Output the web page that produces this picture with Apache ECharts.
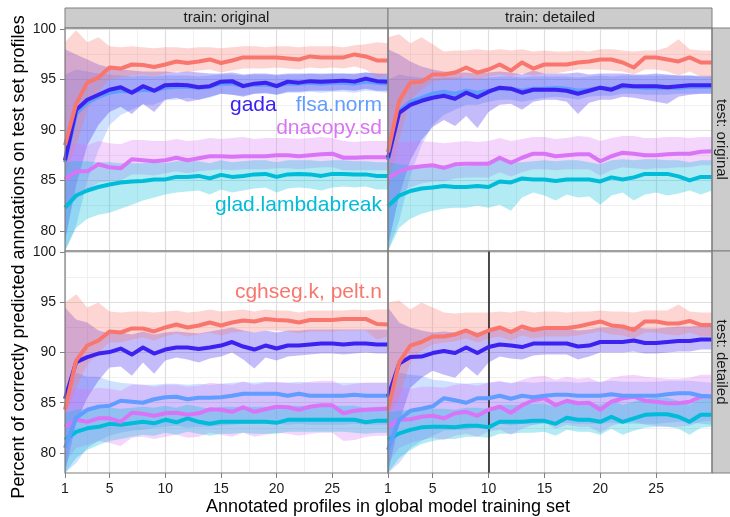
<!DOCTYPE html>
<html><head><meta charset="utf-8">
<script src="https://cdn.jsdelivr.net/npm/echarts@6/dist/echarts.min.js"></script>
<style>html,body{margin:0;padding:0;background:#fff}#c{width:730px;height:517px}</style>
</head><body><div id="c"></div>
<script>
// ---------- data ----------
const xVals = [1,2,3,4,5,6,7,8,9,10,11,12,13,14,15,16,17,18,19,20,21,22,23,24,25,26,27,28,29,30];
const xTicks = [1,5,10,15,20,25];
const xMinor = [3,7.5,12.5,17.5,22.5,27.5];
const yTicks = [80,85,90,95,100];
const yMinor = [82.5,87.5,92.5,97.5];
const colTitles = ['train: original','train: detailed'];
const rowTitles = ['test: original','test: detailed'];
const methodLabels = ['cghseg.k, pelt.n','gada','flsa.norm','dnacopy.sd','glad.lambdabreak'];
const xTitle = 'Annotated profiles in global model training set';
const yTitle = 'Percent of correctly predicted annotations on test set profiles';
const markedX = [10];

// top-left: train original / test original
const tlCghMean = [88.5,92.6,94.7,95.2,96.2,96.1,96.5,96.45,96.25,96.5,96.8,96.65,96.8,97.0,96.65,96.9,97.2,97.2,97.2,97.2,97.1,97.0,97.3,97.2,97.2,97.2,97.5,97.3,96.9,96.9];
const tlCghLo = [85.5,88.5,92.0,93.8,95.0,95.2,95.4,95.5,95.3,95.6,95.8,95.7,95.9,96.0,95.7,95.9,96.1,96.1,96.1,96.2,96.1,96.0,96.2,96.1,96.2,96.1,96.3,96.0,95.2,95.5];
const tlCghHi = [98.7,99.9,98.7,99.2,98.3,98.2,98.3,98.2,98.1,98.2,98.2,98.1,98.2,98.2,98.1,98.2,98.3,98.3,98.2,98.3,98.3,98.2,98.3,98.3,98.3,98.2,98.4,98.5,98.7,98.6];
const tlGadaMean = [87.0,92.0,93.0,93.5,94.0,94.25,93.7,94.35,93.9,94.45,94.5,94.45,94.25,94.35,94.8,94.85,94.35,94.6,94.7,94.35,94.8,94.7,94.85,94.8,94.85,94.9,94.8,95.1,94.85,94.8];
const tlGadaLo = [79.0,84.5,88.5,90.5,91.8,92.3,91.6,92.6,91.8,93.0,93.2,92.8,93.0,93.3,93.6,93.5,93.3,93.6,93.7,93.5,93.8,93.8,93.9,93.9,93.9,94.0,93.9,94.1,93.9,93.9];
const tlGadaHi = [98.0,97.5,97.0,96.5,96.2,96.0,95.9,95.8,95.8,95.8,95.7,95.8,95.7,95.6,95.6,95.7,95.5,95.6,95.6,95.5,95.6,95.6,95.6,95.6,95.6,95.6,95.6,95.7,95.6,95.6];
const tlFlsaMean = [86.8,91.6,92.7,93.3,93.7,93.9,93.8,94.0,93.9,94.2,94.3,94.3,94.2,94.3,94.6,94.6,94.4,94.5,94.5,94.4,94.6,94.6,94.7,94.6,94.7,94.7,94.6,94.8,94.7,94.6];
const tlFlsaLo = [78.0,80.5,85.0,88.0,90.5,91.5,92.0,92.5,92.5,93.0,93.0,93.2,93.0,93.2,93.6,93.5,93.4,93.6,93.6,93.5,93.7,93.7,93.8,93.7,93.8,93.8,93.7,93.9,93.8,93.7];
const tlFlsaHi = [95.5,96.0,95.8,95.6,95.5,95.4,95.3,95.4,95.3,95.4,95.4,95.4,95.3,95.4,95.5,95.5,95.4,95.5,95.5,95.4,95.5,95.5,95.6,95.5,95.6,95.6,95.5,95.7,95.6,95.5];
const tlDnaMean = [85.1,85.9,85.9,86.6,86.3,86.2,87.1,87.0,86.9,87.0,87.25,87.0,87.2,87.4,87.4,87.35,87.4,87.4,87.4,87.5,87.5,87.4,87.5,87.6,87.65,87.25,87.25,87.3,87.3,87.3];
const tlDnaLo = [82.5,83.5,84.0,84.8,84.9,85.0,85.6,85.6,85.5,85.7,85.9,85.7,85.9,86.0,86.1,86.0,86.1,86.1,86.1,86.2,86.2,86.1,86.2,86.3,86.3,86.0,86.0,86.0,86.0,86.0];
const tlDnaHi = [88.3,88.7,88.5,88.9,88.7,88.6,89.0,89.0,88.9,88.9,89.1,88.9,89.0,89.2,89.1,89.2,89.3,89.1,89.2,89.2,89.2,89.1,89.2,89.3,89.2,88.9,88.8,88.9,88.9,88.9];
const tlGladMean = [82.3,83.5,84.0,84.35,84.6,84.8,84.9,84.95,85.1,85.1,85.35,85.35,85.45,85.2,85.55,85.35,85.45,85.6,85.65,85.35,85.6,85.65,85.6,85.45,85.65,85.65,85.6,85.6,85.45,85.45];
const tlGladLo = [78.0,80.3,81.2,81.6,81.8,82.2,82.6,83.0,83.3,83.6,83.8,83.9,84.0,83.6,84.1,83.8,84.0,84.2,84.3,83.8,84.2,84.3,84.2,84.0,84.3,84.4,84.3,84.4,84.1,84.1];
const tlGladHi = [86.8,86.9,86.9,86.8,86.8,86.7,86.7,86.7,86.8,86.7,86.9,86.9,86.9,86.7,87.0,86.8,86.9,87.0,87.0,86.8,87.0,87.0,87.0,86.9,87.0,87.0,86.9,86.9,86.8,86.8];

// top-right: train detailed / test original
const trCghMean = [87.8,92.9,94.7,94.8,95.5,95.5,95.7,96.2,95.7,96.0,96.5,95.9,96.7,96.1,96.5,96.5,96.5,96.7,96.8,97.0,97.0,96.7,96.2,97.2,97.2,97.0,96.8,97.2,96.7,96.7];
const trCghLo = [84.0,89.0,93.0,94.0,94.8,95.0,95.0,95.3,95.0,95.3,95.5,95.3,95.6,95.4,95.6,95.6,95.8,96.0,96.0,96.0,95.9,95.8,95.5,96.0,96.0,95.8,95.4,95.8,95.3,95.2];
const trCghHi = [99.2,99.5,98.6,99.2,98.5,97.8,97.9,97.9,98.0,97.9,98.0,97.9,98.0,97.8,97.9,97.8,97.8,97.9,97.8,98.0,98.0,97.9,97.8,97.9,97.9,98.2,99.0,98.0,97.9,97.9];
const trGadaMean = [87.25,91.7,92.5,92.9,93.2,93.4,93.1,93.7,93.25,93.8,94.2,94.1,93.7,94.0,94.0,94.0,93.9,93.6,93.9,94.2,94.0,94.45,94.35,94.35,94.35,94.25,94.35,94.45,94.45,94.45];
const trGadaLo = [78.5,83.5,87.0,89.0,90.3,91.0,90.4,91.4,90.2,91.8,92.5,92.6,92.0,92.8,93.0,93.0,92.8,91.6,92.7,93.0,93.0,93.3,93.2,93.0,92.8,92.6,93.3,93.5,93.6,93.6];
const trGadaHi = [98.0,97.5,96.8,96.3,96.0,95.8,95.7,95.7,95.6,95.7,95.8,95.7,95.5,95.9,95.6,95.6,95.6,95.7,95.5,95.6,95.6,95.6,95.5,95.5,95.6,95.5,95.4,95.4,95.3,95.3];
const trFlsaMean = [87.0,91.9,92.8,93.2,93.6,93.8,93.6,93.9,93.7,93.9,94.1,94.1,93.9,94.1,94.1,94.2,94.1,93.9,94.0,94.2,94.1,94.3,94.3,94.2,94.2,94.2,94.2,94.3,94.3,94.3];
const trFlsaLo = [78.0,81.0,85.5,88.5,90.5,91.5,92.0,92.5,92.5,92.8,93.0,93.0,92.8,93.0,93.2,93.3,93.2,93.0,93.3,93.4,93.4,93.6,93.6,93.5,93.5,93.5,93.6,93.6,93.6,93.6];
const trFlsaHi = [95.0,95.5,95.3,95.2,95.1,95.2,95.2,95.2,95.1,95.2,95.3,95.3,95.2,95.3,95.3,95.3,95.3,95.2,95.3,95.4,95.3,95.4,95.4,95.4,95.4,95.4,95.4,95.4,95.4,95.4];
const trDnaMean = [85.2,85.9,86.25,86.4,86.5,86.25,86.6,86.65,86.65,86.65,87.25,86.75,87.25,87.65,87.65,87.4,87.5,87.6,87.6,86.9,87.4,87.75,87.65,87.5,87.5,87.6,87.65,87.65,87.85,87.9];
const trDnaLo = [82.5,83.7,84.3,84.7,84.9,84.9,85.2,85.3,85.3,85.3,85.8,85.4,85.8,86.1,86.1,86.0,86.1,86.1,86.1,85.5,86.0,86.3,86.2,86.1,86.2,86.2,86.3,86.3,86.5,86.5];
const trDnaHi = [88.2,88.8,88.8,88.9,88.8,88.7,88.8,88.9,88.8,88.9,89.2,88.9,89.1,89.3,89.3,89.1,89.2,89.4,89.3,88.9,89.2,89.4,89.4,89.2,89.2,89.3,89.3,89.2,89.3,89.3];
const trGladMean = [82.45,83.5,83.95,84.2,84.3,84.45,84.35,84.35,84.45,84.35,84.9,84.8,85.2,85.1,85.1,84.95,85.1,85.1,85.1,84.9,85.3,85.1,85.3,85.65,85.65,85.65,85.4,85.0,85.35,85.35];
const trGladLo = [78.0,80.3,81.2,81.7,82.0,82.2,82.3,82.3,82.5,82.3,82.6,82.0,83.3,83.8,83.5,83.0,83.6,83.3,83.4,82.6,83.5,83.8,83.0,83.6,83.8,83.5,83.7,84.0,83.6,84.0];
const trGladHi = [86.8,86.6,86.5,86.4,86.4,86.5,86.4,86.4,86.6,86.9,87.4,86.8,86.8,86.9,87.0,86.9,87.0,87.0,86.8,86.6,87.0,87.1,87.0,87.1,87.1,87.0,87.0,86.8,87.0,87.0];

// bottom-left: train original / test detailed
const blCghMean = [84.3,89.2,90.7,91.2,92.1,92.0,92.4,92.4,92.1,92.5,92.8,92.5,92.7,93.0,92.7,93.0,93.2,93.1,93.35,93.25,93.2,93.0,93.25,93.25,93.25,93.35,93.35,93.35,92.85,92.8];
const blCghLo = [83.5,86.5,88.8,90.0,91.0,91.0,91.3,91.5,91.2,91.6,91.9,91.6,91.8,92.0,91.7,92.0,92.1,92.0,92.2,92.2,92.1,91.9,92.1,92.1,92.1,92.2,92.2,92.2,91.3,91.6];
const blCghHi = [95.0,95.8,94.5,95.0,94.1,94.0,94.1,94.1,94.0,94.1,94.2,94.0,94.1,94.3,94.1,94.2,94.3,94.1,94.3,94.2,94.2,94.0,94.2,94.2,94.2,94.2,94.3,94.2,94.3,94.3];
const blGadaMean = [85.4,89.05,89.55,89.9,90.05,90.4,89.8,90.5,89.9,90.3,90.5,90.5,90.35,90.5,90.7,91.05,90.6,90.3,90.7,90.4,90.7,90.7,90.8,90.9,90.9,90.8,90.9,90.9,90.8,90.8];
const blGadaLo = [78.0,83.0,85.5,87.2,88.5,88.6,87.7,89.0,87.9,89.2,89.5,89.3,89.0,89.4,89.6,90.0,89.3,88.4,89.5,89.2,89.6,89.7,89.8,89.9,89.9,89.8,89.9,90.0,89.9,89.9];
const blGadaHi = [94.5,93.3,93.0,92.2,91.9,92.0,91.8,92.1,91.8,92.0,92.1,92.0,91.9,92.1,92.3,92.5,92.2,92.0,92.2,92.0,92.2,92.2,92.3,92.3,92.3,92.3,92.3,92.3,92.3,92.3];
const blFlsaMean = [80.5,83.5,84.3,84.6,84.7,85.2,85.1,85.0,85.35,85.55,85.6,85.35,85.5,85.5,85.55,85.7,85.9,85.9,85.9,85.9,85.7,85.9,85.7,85.7,85.7,85.7,85.8,85.7,85.7,85.7];
const blFlsaLo = [78.0,79.0,80.5,81.2,81.7,82.0,82.2,82.3,82.5,82.6,82.7,82.5,82.6,82.6,82.7,82.8,82.9,82.9,82.9,82.9,82.8,82.9,82.8,82.8,82.8,82.8,82.9,82.8,82.8,82.8];
const blFlsaHi = [85.0,88.0,87.6,87.6,87.2,87.0,86.9,86.8,86.8,86.9,86.9,86.8,86.9,86.8,86.9,87.0,87.1,87.0,87.1,87.0,87.0,87.1,87.0,87.0,87.0,87.0,87.0,87.0,87.0,87.0];
const blDnaMean = [82.6,83.3,83.1,83.45,83.45,83.1,84.0,83.9,83.7,83.95,84.0,83.8,83.95,84.35,84.3,84.1,84.55,84.1,84.35,84.6,84.55,84.3,84.6,84.75,84.75,83.95,84.2,84.3,84.35,84.4];
const blDnaLo = [79.0,80.5,80.8,81.2,81.0,80.7,81.5,81.6,81.4,81.6,81.8,81.5,81.6,82.0,81.8,81.6,82.0,81.6,81.8,82.0,81.9,81.7,81.9,82.0,82.0,81.2,81.3,81.6,81.7,81.7];
const blDnaHi = [86.0,86.5,86.3,86.5,86.4,86.2,86.8,86.8,86.6,86.8,86.8,86.6,86.7,87.0,86.9,86.8,87.1,86.8,87.0,87.1,87.0,86.9,87.1,87.2,87.2,86.7,86.9,87.0,87.0,87.0];
const blGladMean = [81.3,82.1,82.45,82.6,82.9,82.8,82.95,83.1,82.95,83.3,83.05,83.45,83.1,82.9,83.1,83.1,83.1,83.1,83.1,83.0,83.3,83.3,83.3,83.3,83.3,83.3,83.3,83.05,83.2,83.2];
const blGladLo = [78.0,79.5,80.3,80.8,81.2,81.4,81.6,81.8,81.7,82.0,81.8,82.1,81.9,81.7,81.9,81.9,82.0,81.9,81.9,81.9,82.1,82.1,82.1,82.1,82.1,82.1,82.0,81.9,82.0,82.0];
const blGladHi = [84.0,84.3,84.4,84.4,84.5,84.4,84.5,84.6,84.5,84.7,84.5,84.8,84.6,84.4,84.6,84.6,84.6,84.6,84.6,84.5,84.7,84.7,84.7,84.7,84.7,84.7,84.7,84.5,84.6,84.6];

// bottom-right: train detailed / test detailed
const brCghMean = [84.3,89.05,90.7,91.05,91.6,91.6,91.8,92.2,91.7,92.2,92.5,92.05,92.6,92.25,92.45,92.45,92.45,92.6,92.85,93.1,92.7,92.6,92.25,93.1,93.1,92.9,92.9,93.15,92.75,92.75];
const brCghLo = [83.5,85.5,89.0,90.2,90.8,91.0,91.1,91.4,91.0,91.4,91.6,91.2,91.7,91.4,91.6,91.6,91.6,91.7,91.9,92.1,91.8,91.7,91.4,92.0,92.0,91.8,91.7,92.0,91.6,91.6];
const brCghHi = [95.0,95.2,94.3,95.0,94.5,94.0,93.9,94.0,94.0,94.0,94.1,94.0,94.2,94.0,94.1,94.1,94.0,94.1,94.1,94.2,94.1,94.1,94.0,94.2,94.2,94.2,94.8,94.1,94.0,94.0];
const brGadaMean = [85.6,88.9,89.55,89.6,89.95,90.15,89.95,90.5,89.95,90.55,90.8,90.7,90.55,90.9,90.9,90.9,90.9,90.6,90.7,91.05,91.05,91.05,91.2,90.95,90.95,91.05,91.15,91.15,91.3,91.3];
const brGadaLo = [78.0,83.0,86.5,87.5,88.2,87.8,87.5,88.6,87.7,89.0,89.6,89.4,89.3,89.7,89.8,89.8,89.8,89.3,89.6,90.0,90.0,90.0,90.1,89.9,89.9,90.0,90.1,90.1,90.3,90.3];
const brGadaHi = [94.5,93.0,92.5,92.2,92.0,92.1,92.0,92.3,92.0,92.3,92.4,92.3,92.3,92.5,92.4,92.4,92.4,92.2,92.3,92.5,92.5,92.5,92.6,92.4,92.4,92.5,92.6,92.6,92.7,92.7];
const brFlsaMean = [80.3,83.3,84.2,84.4,84.65,85.45,85.25,85.0,85.45,85.45,85.7,85.4,85.7,85.55,85.7,85.8,85.8,85.7,85.7,85.7,85.85,85.7,85.7,85.7,85.7,85.85,85.95,85.95,85.7,85.6];
const brFlsaLo = [78.0,79.0,80.5,81.2,81.7,82.2,82.3,82.3,82.6,82.7,82.9,82.7,82.9,82.8,82.9,83.0,83.0,82.9,82.9,82.9,83.0,82.9,82.9,82.9,82.9,83.0,83.1,83.1,82.9,82.8];
const brFlsaHi = [85.0,88.0,87.8,87.7,87.3,87.2,87.0,86.9,87.0,87.0,87.1,87.0,87.1,87.0,87.1,87.1,87.1,87.0,87.1,87.1,87.2,87.1,87.1,87.1,87.1,87.2,87.2,87.2,87.1,87.0];
const brDnaMean = [82.6,83.3,83.35,83.6,83.7,83.45,83.95,84.1,83.7,84.3,84.6,84.0,84.75,85.25,85.45,84.75,85.2,84.95,85.0,84.3,85.1,85.45,85.6,85.2,85.1,84.95,84.95,85.1,85.6,85.65];
const brDnaLo = [79.0,80.5,81.0,81.3,81.5,81.3,81.7,81.9,81.6,82.1,82.3,81.8,82.4,82.8,83.0,82.4,82.8,82.6,82.6,82.0,82.7,83.0,83.1,82.8,82.7,82.6,82.6,82.7,83.1,83.2];
const brDnaHi = [86.0,86.5,86.4,86.6,86.6,86.5,86.8,86.9,86.7,87.0,87.2,86.9,87.3,87.6,87.7,87.3,87.6,87.4,87.5,87.0,87.5,87.7,87.8,87.6,87.5,87.4,87.4,87.5,87.8,87.8];
const brGladMean = [81.3,81.95,82.3,82.55,82.6,82.6,82.55,82.7,82.7,82.55,83.1,83.1,83.1,83.2,83.2,82.9,83.5,83.3,83.3,83.1,83.6,83.1,83.45,83.8,83.85,83.85,83.6,83.1,83.8,83.8];
const brGladLo = [78.0,79.5,80.3,80.9,81.2,81.4,81.4,81.6,81.6,81.5,81.9,81.9,82.0,82.0,82.1,81.7,82.3,82.1,82.1,81.8,82.4,81.8,82.2,82.5,82.6,82.6,82.4,81.8,82.5,82.6];
const brGladHi = [84.0,84.2,84.3,84.4,84.4,84.4,84.3,84.5,84.5,84.4,84.8,84.8,84.8,84.9,84.9,84.6,85.1,85.0,85.0,84.8,85.2,84.8,85.1,85.4,85.5,85.5,85.2,84.8,85.4,85.4];

// ---------- chart ----------
const panels = [
  {cgh:[tlCghMean,tlCghLo,tlCghHi], gada:[tlGadaMean,tlGadaLo,tlGadaHi], flsa:[tlFlsaMean,tlFlsaLo,tlFlsaHi], dna:[tlDnaMean,tlDnaLo,tlDnaHi], glad:[tlGladMean,tlGladLo,tlGladHi]},
  {cgh:[trCghMean,trCghLo,trCghHi], gada:[trGadaMean,trGadaLo,trGadaHi], flsa:[trFlsaMean,trFlsaLo,trFlsaHi], dna:[trDnaMean,trDnaLo,trDnaHi], glad:[trGladMean,trGladLo,trGladHi]},
  {cgh:[blCghMean,blCghLo,blCghHi], gada:[blGadaMean,blGadaLo,blGadaHi], flsa:[blFlsaMean,blFlsaLo,blFlsaHi], dna:[blDnaMean,blDnaLo,blDnaHi], glad:[blGladMean,blGladLo,blGladHi]},
  {cgh:[brCghMean,brCghLo,brCghHi], gada:[brGadaMean,brGadaLo,brGadaHi], flsa:[brFlsaMean,brFlsaLo,brFlsaHi], dna:[brDnaMean,brDnaLo,brDnaHi], glad:[brGladMean,brGladLo,brGladHi]}
];
const colors = {cgh:'#F8766D', gada:'#3B22F0', flsa:'#619CFF', dna:'#DA74F6', glad:'#00BCD8'};
const bandColors = {cgh:'rgba(248,118,109,0.3)', gada:'rgba(59,34,240,0.3)', flsa:'rgba(97,156,255,0.3)', dna:'rgba(218,116,246,0.3)', glad:'rgba(0,188,216,0.3)'};
const bandOrder = ['flsa','gada','cgh','dna','glad'];
const lineOrder = ['glad','dna','flsa','gada','cgh'];

const L0 = 65, L1 = 388, R = 712, T0 = 28, T1 = 251, B = 473;
const gridBoxes = [
  {left:L0, top:T0, width:L1-L0, height:T1-T0},
  {left:L1, top:T0, width:R-L1, height:T1-T0},
  {left:L0, top:T1, width:L1-L0, height:B-T1},
  {left:L1, top:T1, width:R-L1, height:B-T1}
];
const FONT = '"Liberation Sans", Arial, Helvetica, sans-serif';

const grids = gridBoxes.map(b => Object.assign({show:false, outerBoundsMode:'none', containLabel:false}, b));
const xAxes = gridBoxes.map((b,i) => {
  const bottom = i >= 2;
  return {
    gridIndex:i, type:'value', min:1, max:30,
    axisLine:{show:false}, splitLine:{show:false},
    axisTick:{show:bottom, length:5, customValues:xTicks, lineStyle:{color:'#7F7F7F', width:1}},
    axisLabel:{show:bottom, customValues:xTicks, fontSize:14, color:'#1a1a1a', fontFamily:FONT, margin:9}
  };
});
const yAxes = gridBoxes.map((b,i) => {
  const left = i % 2 === 0;
  return {
    gridIndex:i, type:'value', min:78, max:100.12,
    axisLine:{show:false}, splitLine:{show:false},
    axisTick:{show:left, length:5, customValues:yTicks, lineStyle:{color:'#7F7F7F', width:1}},
    axisLabel:{show:left, customValues:yTicks, fontSize:14, color:'#1a1a1a', fontFamily:FONT, margin:9}
  };
});

function bandSeries(g, k, lo, hi) {
  return {
    type:'custom', xAxisIndex:g, yAxisIndex:g, silent:true, z:2,
    data: xVals.map((x,i) => [x, lo[i], hi[i]]),
    encode:{x:0, y:[1,2]},
    renderItem: function (params, api) {
      if (params.dataIndex !== 0) return null;
      const pts = [];
      for (let i = 0; i < xVals.length; i++) pts.push(api.coord([xVals[i], hi[i]]));
      for (let i = xVals.length - 1; i >= 0; i--) pts.push(api.coord([xVals[i], lo[i]]));
      const cs = params.coordSys;
      return {
        type:'polygon', shape:{points:pts}, style:{fill:bandColors[k]},
        clipPath:{type:'rect', shape:{x:cs.x, y:cs.y, width:cs.width, height:cs.height}}
      };
    }
  };
}

const series = [];
panels.forEach((p, g) => {
  const gl = [];
  yMinor.forEach(v => gl.push({yAxis:v, lineStyle:{color:'#F0F0F0', width:1, type:'solid'}}));
  xMinor.forEach(v => gl.push({xAxis:v, lineStyle:{color:'#F0F0F0', width:1, type:'solid'}}));
  yTicks.forEach(v => gl.push({yAxis:v, lineStyle:{color:'#DEDEDE', width:1.2, type:'solid'}}));
  xTicks.forEach(v => gl.push({xAxis:v, lineStyle:{color:'#DEDEDE', width:1.2, type:'solid'}}));
  series.push({type:'line', xAxisIndex:g, yAxisIndex:g, data:[], silent:true, z:1,
    markLine:{silent:true, z:1, symbol:['none','none'], label:{show:false}, animation:false, data:gl}});
  bandOrder.forEach(k => series.push(bandSeries(g, k, p[k][1], p[k][2])));
  if (g === 3) {
    series.push({type:'line', xAxisIndex:g, yAxisIndex:g, data:[], silent:true, z:3,
      markLine:{silent:true, z:3, symbol:['none','none'], label:{show:false}, animation:false,
        data:markedX.map(v => ({xAxis:v, lineStyle:{color:'#222', width:1.6, type:'solid'}}))}});
  }
  lineOrder.forEach(k => {
    series.push({type:'line', xAxisIndex:g, yAxisIndex:g, symbol:'none', silent:true, z:4,
      lineStyle:{color:colors[k], width:4, cap:'butt', join:'round'},
      data:xVals.map((x,i)=>[x, p[k][0][i]])});
  });
});

const graphic = [];
[[L0,L1],[L1,R]].forEach((c,i) => {
  graphic.push({type:'rect', z:100, shape:{x:c[0], y:8, width:c[1]-c[0], height:T0-8}, style:{fill:'#CCCCCC', stroke:'#7F7F7F', lineWidth:1}});
  graphic.push({type:'text', z:101, x:(c[0]+c[1])/2, y:18, style:{text:colTitles[i], fill:'#1a1a1a', font:'15px '+FONT, align:'center', verticalAlign:'middle'}});
});
[[T0,T1],[T1,B]].forEach((r,i) => {
  graphic.push({type:'rect', z:100, shape:{x:R, y:r[0], width:22, height:r[1]-r[0]}, style:{fill:'#CCCCCC', stroke:'#7F7F7F', lineWidth:1}});
  graphic.push({type:'text', z:101, x:R+9.5, y:(r[0]+r[1])/2, rotation:-Math.PI/2, style:{text:rowTitles[i], fill:'#1a1a1a', font:'15px '+FONT, align:'center', verticalAlign:'middle'}});
});
gridBoxes.forEach(b => {
  graphic.push({type:'rect', z:100, shape:{x:b.left, y:b.top, width:b.width, height:b.height}, style:{fill:'none', stroke:'#7F7F7F', lineWidth:1.2}});
});
const lblFont = '21px ' + FONT;
graphic.push({type:'text', z:102, x:230, y:105, style:{text:methodLabels[1], fill:colors.gada, font:lblFont, align:'left', verticalAlign:'middle'}});
graphic.push({type:'text', z:102, x:382, y:105, style:{text:methodLabels[2], fill:colors.flsa, font:lblFont, align:'right', verticalAlign:'middle'}});
graphic.push({type:'text', z:102, x:382, y:128, style:{text:methodLabels[3], fill:colors.dna, font:lblFont, align:'right', verticalAlign:'middle'}});
graphic.push({type:'text', z:102, x:382, y:205.5, style:{text:methodLabels[4], fill:colors.glad, font:lblFont, align:'right', verticalAlign:'middle'}});
graphic.push({type:'text', z:102, x:382, y:292, style:{text:methodLabels[0], fill:colors.cgh, font:lblFont, align:'right', verticalAlign:'middle'}});
graphic.push({type:'text', z:102, x:388, y:507, style:{text:xTitle, fill:'#000', font:'18px '+FONT, align:'center', verticalAlign:'middle'}});
graphic.push({type:'text', z:102, x:19, y:257, rotation:Math.PI/2, style:{text:yTitle, fill:'#000', font:'18px '+FONT, align:'center', verticalAlign:'middle'}});

const chart = echarts.init(document.getElementById('c'), null, {renderer:'canvas'});
chart.setOption({
  animation:false,
  backgroundColor:'#fff',
  grid:grids, xAxis:xAxes, yAxis:yAxes, series:series, graphic:graphic
});
</script></body></html>
